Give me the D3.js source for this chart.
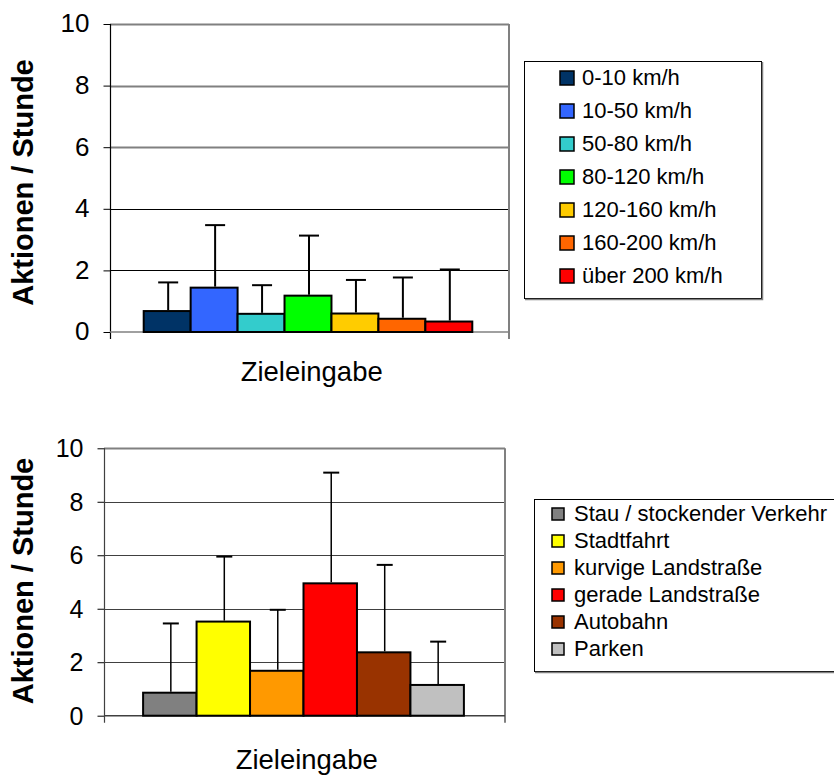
<!DOCTYPE html>
<html>
<head>
<meta charset="utf-8">
<script src="https://cdn.jsdelivr.net/npm/d3@7"></script>
<style>
  html, body { margin: 0; padding: 0; background: #fff; }
  svg { display: block; }
  text { font-family: "Liberation Sans", Arial, sans-serif; fill: #000; }
</style>
</head>
<body>
<svg id="chart" width="834" height="775"></svg>
<script>
// ---------- data ----------
const yTickValues = [0, 2, 4, 6, 8, 10];
const xCategory = ["Zieleingabe"];
const yAxisTitle = "Aktionen / Stunde";

const speedCategories = ["0-10 km/h", "10-50 km/h", "50-80 km/h", "80-120 km/h", "120-160 km/h", "160-200 km/h", "über 200 km/h"];
const speedValues     = [0.68, 1.44, 0.59, 1.18, 0.60, 0.43, 0.34];
const speedErrorHigh  = [1.61, 3.47, 1.52, 3.13, 1.69, 1.77, 2.03];
const speedColors     = ["#003366", "#3366FF", "#33CCCC", "#00FF00", "#FFCC00", "#FF6600", "#FF0000"];

const roadCategories = ["Stau / stockender Verkehr", "Stadtfahrt", "kurvige Landstraße", "gerade Landstraße", "Autobahn", "Parken"];
const roadValues     = [0.86, 3.52, 1.68, 4.95, 2.37, 1.15];
const roadErrorHigh  = [3.45, 5.95, 3.96, 9.09, 5.64, 2.77];
const roadColors     = ["#808080", "#FFFF00", "#FF9900", "#FF0000", "#993300", "#C0C0C0"];

// ---------- drawing ----------
const svg = d3.select("#chart");

function drawChart(cfg) {
  const g = svg.append("g");
  const y = d3.scaleLinear().domain([0, 10]).range([cfg.bottom, cfg.top]);
  const xCat = d3.scaleBand().domain(xCategory).range([cfg.left, cfg.right]);
  const xBar = d3.scaleBand().domain(cfg.categories)
    .range([xCat(xCategory[0]) + cfg.barShift, xCat(xCategory[0]) + xCat.bandwidth() + cfg.barShift])
    .paddingInner(0).paddingOuter(0.75);

  // gridlines
  g.append("g").selectAll("line").data(yTickValues.filter(v => v > 0)).join("line")
    .attr("x1", cfg.left).attr("x2", cfg.right)
    .attr("y1", d => Math.round(y(d)) + 0.5).attr("y2", d => Math.round(y(d)) + 0.5)
    .attr("stroke", d => cfg.gridColor(d)).attr("stroke-width", d => cfg.gridWidth(d));

  // right border (with tick below)
  g.append("line").attr("x1", cfg.right).attr("x2", cfg.right)
    .attr("y1", y(10)).attr("y2", cfg.bottom + 7)
    .attr("stroke", "#808080").attr("stroke-width", 2);

  // y axis
  const yAxis = d3.axisLeft(y).tickValues(yTickValues).tickSize(7).tickPadding(14).tickFormat(d3.format("d"));
  const ya = g.append("g").attr("transform", `translate(${cfg.left + 0.5},0)`).call(yAxis);
  ya.select(".domain").remove();
  ya.selectAll(".tick line").attr("stroke", "#000").attr("stroke-width", 1);
  ya.selectAll(".tick text").attr("font-size", cfg.tickFont).attr("dy", cfg.tickDy)
    .style("font-family", "'Liberation Sans', Arial, sans-serif").attr("fill", "#000");
  g.append("line").attr("x1", cfg.left + 0.5).attr("x2", cfg.left + 0.5)
    .attr("y1", y(10)).attr("y2", cfg.bottom + 7)
    .attr("stroke", cfg.axisColor).attr("stroke-width", 1.2);

  // x axis (zero line)
  g.append("line").attr("x1", cfg.left).attr("x2", cfg.right)
    .attr("y1", y(0)).attr("y2", y(0))
    .attr("stroke", cfg.zeroColor).attr("stroke-width", 1.5);

  // bars
  const idx = d3.range(cfg.categories.length);
  g.append("g").selectAll("rect").data(idx).join("rect")
    .attr("x", i => xBar(cfg.categories[i]))
    .attr("y", i => y(cfg.values[i]))
    .attr("width", xBar.bandwidth())
    .attr("height", i => y(0) - y(cfg.values[i]))
    .attr("fill", i => cfg.colors[i])
    .attr("stroke", "#000").attr("stroke-width", 2);

  // error bars (upper)
  const eb = g.append("g");
  eb.selectAll("line.stem").data(idx).join("line").attr("class", "stem")
    .attr("x1", i => xBar(cfg.categories[i]) + xBar.bandwidth() / 2 + 1)
    .attr("x2", i => xBar(cfg.categories[i]) + xBar.bandwidth() / 2 + 1)
    .attr("y1", i => y(cfg.values[i]) - 1).attr("y2", i => y(cfg.errHigh[i]))
    .attr("stroke", "#000").attr("stroke-width", cfg.stemWidth);
  eb.selectAll("line.cap").data(idx).join("line").attr("class", "cap")
    .attr("x1", i => xBar(cfg.categories[i]) + xBar.bandwidth() / 2 + 1 - cfg.capW / 2)
    .attr("x2", i => xBar(cfg.categories[i]) + xBar.bandwidth() / 2 + 1 + cfg.capW / 2)
    .attr("y1", i => y(cfg.errHigh[i])).attr("y2", i => y(cfg.errHigh[i]))
    .attr("stroke", "#000").attr("stroke-width", 2);

  // axis titles
  g.append("text")
    .attr("transform", `translate(${cfg.yTitleX},${cfg.yTitleY}) rotate(-90)`)
    .attr("text-anchor", "middle").attr("font-size", 29).attr("font-weight", "bold")
    .text(yAxisTitle);
  g.append("text")
    .attr("x", cfg.xTitleX).attr("y", cfg.xTitleY)
    .attr("text-anchor", "middle").attr("font-size", 28)
    .attr("textLength", 142).attr("lengthAdjust", "spacingAndGlyphs")
    .text(xCategory[0]);

  // legend
  const L = cfg.legend;
  g.append("rect").attr("x", L.x + 0.5).attr("y", L.y + 0.5).attr("width", L.w).attr("height", L.h)
    .attr("fill", "#fff").attr("stroke", "#000").attr("stroke-width", 1);
  g.append("path")
    .attr("d", `M${L.x + 1},${L.y + L.h + 1.5}H${L.x + L.w + 1.5}V${L.y + 1}`)
    .attr("fill", "none").attr("stroke", "#808080").attr("stroke-width", 1.5);
  const items = g.append("g").selectAll("g").data(idx).join("g")
    .attr("transform", i => `translate(0,${L.baseline0 + i * L.step})`);
  items.append("rect")
    .attr("x", L.swX).attr("y", -L.sw - L.swOff).attr("width", L.sw).attr("height", L.sw)
    .attr("fill", i => cfg.colors[i]).attr("stroke", "#000").attr("stroke-width", 1.5);
  items.append("text").attr("x", L.textX).attr("y", 0)
    .attr("font-size", L.font).text(i => cfg.categories[i]);
}

drawChart({
  left: 110, right: 509, top: 24, bottom: 332, barShift: -1.5,
  categories: speedCategories, values: speedValues, errHigh: speedErrorHigh, colors: speedColors,
  gridColor: d => d >= 6 ? "#808080" : "#000",
  gridWidth: d => d >= 6 ? 2 : 1,
  axisColor: "#000", zeroColor: "#808080",
  tickFont: 26, tickDy: "0.3em",
  stemWidth: 2, capW: 20,
  yTitleX: 33, yTitleY: 182.5, xTitleX: 311.7, xTitleY: 381,
  legend: { x: 524, y: 61, w: 237, h: 237, baseline0: 85, step: 33, swX: 560, sw: 14, swOff: 0, textX: 582, font: 22 }
});

drawChart({
  left: 104, right: 505, top: 448.3, bottom: 715.7, barShift: -1,
  categories: roadCategories, values: roadValues, errHigh: roadErrorHigh, colors: roadColors,
  gridColor: d => d === 10 ? "#808080" : "#404040",
  gridWidth: d => d === 10 ? 2 : 1,
  axisColor: "#404040", zeroColor: "#404040",
  tickFont: 25, tickDy: "0.34em",
  stemWidth: 1.5, capW: 16,
  yTitleX: 33, yTitleY: 581, xTitleX: 306.7, xTitleY: 769,
  legend: { x: 534, y: 499, w: 320, h: 172, baseline0: 521, step: 27, swX: 552, sw: 12, swOff: 1, textX: 574, font: 22 }
});
</script>
</body>
</html>
